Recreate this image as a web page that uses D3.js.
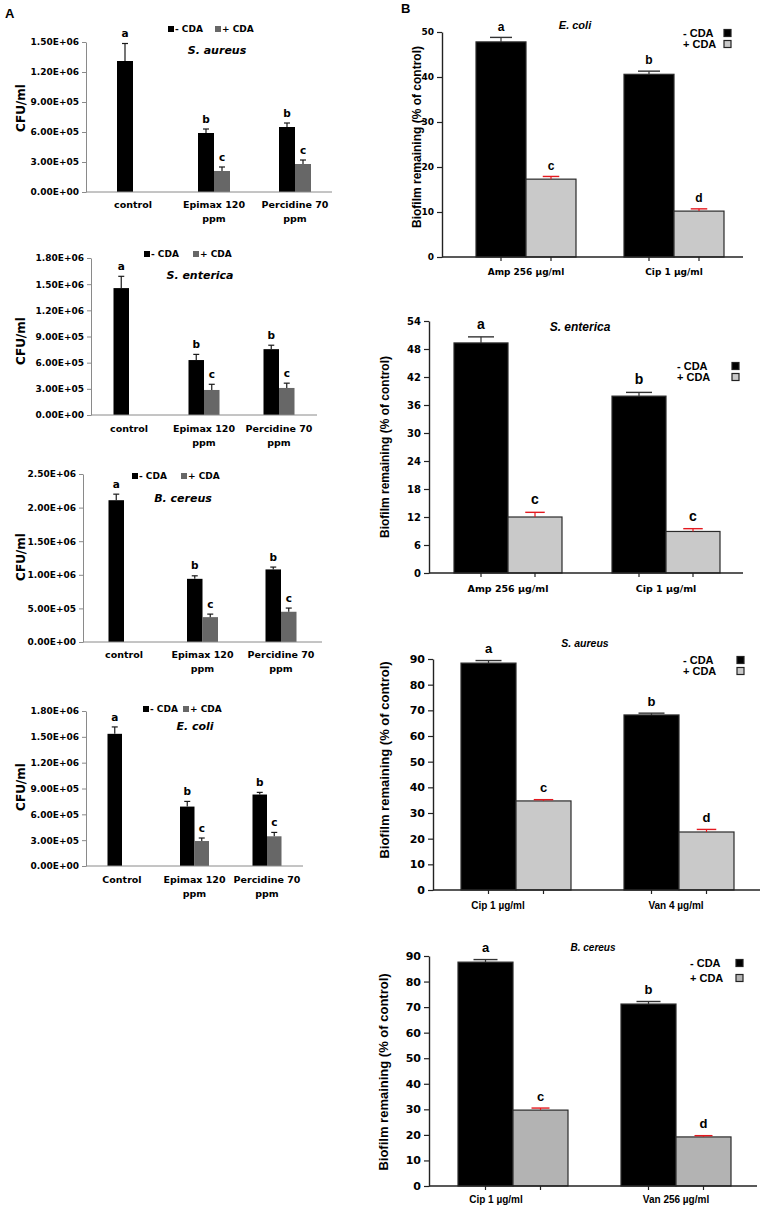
<!DOCTYPE html>
<html><head><meta charset="utf-8">
<script src="https://cdn.jsdelivr.net/npm/d3@7"></script>
<style>body{margin:0;background:#fff}svg{display:block}</style>
</head><body>
<script>
// ================= DATA =================
const seriesLabels = ["- CDA", "+ CDA"];

// ---- Panel A (CFU/ml) ----
const catsA = ["control", "Epimax 120\nppm", "Percidine 70\nppm"];
const catsA_ecoli = ["Control", "Epimax 120\nppm", "Percidine 70\nppm"];
const lettersA_minus = ["a", "b", "b"];
const lettersA_plus = [null, "c", "c"];

const ticksA_aureus = [0, 300000, 600000, 900000, 1200000, 1500000];
const ticksA_enterica = [0, 300000, 600000, 900000, 1200000, 1500000, 1800000];
const ticksA_cereus = [0, 500000, 1000000, 1500000, 2000000, 2500000];
const ticksA_ecoli = [0, 300000, 600000, 900000, 1200000, 1500000, 1800000];

const aureusA_minus = [1310000, 590000, 650000];
const aureusA_minusErr = [175000, 40000, 40000];
const aureusA_plus = [null, 210000, 280000];
const aureusA_plusErr = [null, 40000, 40000];

const entericaA_minus = [1455000, 630000, 755000];
const entericaA_minusErr = [135000, 65000, 45000];
const entericaA_plus = [null, 287000, 310000];
const entericaA_plusErr = [null, 65000, 55000];

const cereusA_minus = [2110000, 940000, 1080000];
const cereusA_minusErr = [90000, 45000, 35000];
const cereusA_plus = [null, 370000, 450000];
const cereusA_plusErr = [null, 45000, 55000];

const ecoliA_minus = [1535000, 690000, 830000];
const ecoliA_minusErr = [80000, 60000, 25000];
const ecoliA_plus = [null, 290000, 345000];
const ecoliA_plusErr = [null, 35000, 45000];

// ---- Panel B (Biofilm remaining, % of control) ----
const catsB_gram_neg = ["Amp 256 µg/ml", "Cip 1 µg/ml"];
const catsB_aureus = ["Cip 1 µg/ml", "Van 4 µg/ml"];
const catsB_cereus = ["Cip 1 µg/ml", "Van 256 µg/ml"];

const ticksB_ecoli = [0, 10, 20, 30, 40, 50];
const ticksB_enterica = [0, 6, 12, 18, 24, 30, 36, 42, 48, 54];
const ticksB_aureus = [0, 10, 20, 30, 40, 50, 60, 70, 80, 90];
const ticksB_cereus = [0, 10, 20, 30, 40, 50, 60, 70, 80, 90];

const ecoliB_minus = [47.8, 40.6];
const ecoliB_minusErr = [1.0, 0.7];
const ecoliB_plus = [17.3, 10.2];
const ecoliB_plusErr = [0.6, 0.5];
const ecoliB_lettersMinus = ["a", "b"];
const ecoliB_lettersPlus = ["c", "d"];

const entericaB_minus = [49.3, 37.9];
const entericaB_minusErr = [1.3, 0.8];
const entericaB_plus = [12.0, 8.9];
const entericaB_plusErr = [1.0, 0.6];
const entericaB_lettersMinus = ["a", "b"];
const entericaB_lettersPlus = ["c", "c"];

const aureusB_minus = [88.4, 68.2];
const aureusB_minusErr = [1.0, 0.7];
const aureusB_plus = [34.7, 22.6];
const aureusB_plusErr = [0.5, 1.0];
const aureusB_lettersMinus = ["a", "b"];
const aureusB_lettersPlus = ["c", "d"];

const cereusB_minus = [87.6, 71.2];
const cereusB_minusErr = [1.0, 1.0];
const cereusB_plus = [29.7, 19.2];
const cereusB_plusErr = [0.8, 0.5];
const cereusB_lettersMinus = ["a", "b"];
const cereusB_lettersPlus = ["c", "d"];

// ================= DRAWING =================
const W = 765, H = 1207;
const svg = d3.select("body").append("svg").attr("width", W).attr("height", H);

const sci = v => v.toExponential(2).toUpperCase().replace(/E([+-])(\d)$/, "E$10$2");
const DJ = "'DejaVu Sans', sans-serif";
const LB = "'Liberation Sans', Arial, sans-serif";

function txt(g, x, y, s, o) {
  const t = g.append("text").attr("x", x).attr("y", y).text(s)
    .attr("font-family", o.family || DJ).attr("font-weight", o.weight || "bold")
    .attr("font-size", o.size).attr("fill", o.fill || "#000")
    .attr("text-anchor", o.anchor || "middle").attr("dy", "0.35em");
  if (o.italic) t.attr("font-style", "italic");
  return t;
}

function buildBars(cats, minus, minusErr, plus, plusErr, lm, lp) {
  const out = [];
  cats.forEach((c, i) => {
    if (minus[i] != null) out.push({ c, s: 0, v: minus[i], e: minusErr[i], l: lm[i] });
    if (plus[i] != null) out.push({ c, s: 1, v: plus[i], e: plusErr[i], l: lp[i] });
  });
  return out;
}

// ---------- Panel A chart ----------
function drawA(cfg, cats, ticks, minus, minusErr, plus, plusErr) {
  const g = svg.append("g");
  const y = d3.scaleLinear().domain([0, d3.max(ticks)]).range([cfg.y0, cfg.yTop]);
  const x = d3.scaleBand().domain(cats)
    .range([cfg.c0 - cfg.step / 2, cfg.c0 + cfg.step * (cats.length - 0.5)]);
  const cx = c => x(c) + x.bandwidth() / 2;
  const bars = buildBars(cats, minus, minusErr, plus, plusErr, lettersA_minus, lettersA_plus);
  const bx = d => d.s === 0 ? cx(d.c) - cfg.barW : cx(d.c);
  const colors = ["#000000", "#676767"];

  g.selectAll("rect.bar").data(bars).join("rect").attr("class", "bar")
    .attr("x", bx).attr("y", d => y(d.v)).attr("width", cfg.barW)
    .attr("height", d => y(0) - y(d.v)).attr("fill", d => colors[d.s]);

  const eb = g.selectAll("g.err").data(bars).join("g").attr("class", "err");
  eb.append("line").attr("x1", d => bx(d) + cfg.barW / 2).attr("x2", d => bx(d) + cfg.barW / 2)
    .attr("y1", d => y(d.v)).attr("y2", d => y(d.v + d.e)).attr("stroke", "#1a1a1a").attr("stroke-width", 1.2);
  eb.append("line").attr("x1", d => bx(d) + cfg.barW / 2 - 3).attr("x2", d => bx(d) + cfg.barW / 2 + 3)
    .attr("y1", d => y(d.v + d.e)).attr("y2", d => y(d.v + d.e)).attr("stroke", "#1a1a1a").attr("stroke-width", 1.2);
  bars.forEach(d => txt(g, bx(d) + cfg.barW / 2, y(d.v + d.e) - 10, d.l, { size: 10.5 }));

  const ax = g.append("g").attr("transform", `translate(${cfg.axisX},0)`)
    .call(d3.axisLeft(y).tickValues(ticks).tickFormat(sci).tickSizeInner(4).tickSizeOuter(0).tickPadding(3));
  ax.select(".domain").attr("stroke", "#8a8a8a");
  ax.selectAll(".tick line").attr("stroke", "#8a8a8a");
  ax.selectAll(".tick text").attr("font-family", DJ).attr("font-weight", "bold")
    .attr("font-size", 9).attr("fill", "#000");
  g.append("line").attr("x1", cfg.axisX).attr("x2", cfg.xEnd).attr("y1", y(0)).attr("y2", y(0))
    .attr("stroke", "#8a8a8a").attr("stroke-width", 1);

  cats.forEach(c => {
    c.split("\n").forEach((line, k) => txt(g, cx(c), cfg.labelY + k * 14, line, { size: 9.5 }));
  });
  txt(g, 0, 0, "CFU/ml", { size: 12 }).attr("transform", `translate(21,${cfg.yTitleY}) rotate(-90)`);
  seriesLabels.forEach((s, i) => {
    g.append("rect").attr("x", cfg.legX[i]).attr("y", cfg.legendY - 3).attr("width", 6).attr("height", 6)
      .attr("fill", colors[i]);
    txt(g, cfg.legX[i] + 7, cfg.legendY, s, { size: 9, anchor: "start" });
  });
  txt(g, cfg.titleX, cfg.titleY, cfg.title, { size: 11, italic: true });
}

// ---------- Panel B chart ----------
function drawB(cfg, cats, ticks, minus, minusErr, plus, plusErr, lm, lp) {
  const g = svg.append("g");
  const y = d3.scaleLinear().domain([0, d3.max(ticks)]).range([cfg.y0, cfg.yTop]);
  const x = d3.scaleBand().domain(cats)
    .range([cfg.c0 - cfg.step / 2, cfg.c0 + cfg.step * (cats.length - 0.5)]);
  const cx = c => x(c) + x.bandwidth() / 2;
  const bars = buildBars(cats, minus, minusErr, plus, plusErr, lm, lp);
  const bx = d => d.s === 0 ? cx(d.c) - cfg.barW : cx(d.c);
  const colors = ["#000000", cfg.grey];

  g.selectAll("rect.bar").data(bars).join("rect").attr("class", "bar")
    .attr("x", bx).attr("y", d => y(d.v)).attr("width", cfg.barW)
    .attr("height", d => y(0) - y(d.v)).attr("fill", d => colors[d.s])
    .attr("stroke", "#2b2b2b").attr("stroke-width", 1.2);

  const errCol = ["#333333", "#e3191f"];
  const capW = [cfg.capW, cfg.capW * 0.75];
  const eb = g.selectAll("g.err").data(bars).join("g").attr("class", "err");
  eb.append("line").attr("x1", d => bx(d) + cfg.barW / 2).attr("x2", d => bx(d) + cfg.barW / 2)
    .attr("y1", d => y(d.v)).attr("y2", d => y(d.v + d.e)).attr("stroke", d => errCol[d.s]).attr("stroke-width", 1.2);
  eb.append("line").attr("x1", d => bx(d) + cfg.barW / 2 - capW[d.s] / 2).attr("x2", d => bx(d) + cfg.barW / 2 + capW[d.s] / 2)
    .attr("y1", d => y(d.v + d.e)).attr("y2", d => y(d.v + d.e)).attr("stroke", d => errCol[d.s]).attr("stroke-width", 1.4);
  bars.forEach(d => txt(g, bx(d) + cfg.barW / 2, y(d.v + d.e) - cfg.letterGap, d.l, { family: LB, size: cfg.letterSize }));

  const ax = g.append("g").attr("transform", `translate(${cfg.axisX},0)`)
    .call(d3.axisLeft(y).tickValues(ticks).tickSizeInner(5).tickSizeOuter(0).tickPadding(3));
  ax.select(".domain").attr("stroke", "#222").attr("stroke-width", 1.4);
  ax.selectAll(".tick line").attr("stroke", "#222").attr("stroke-width", 1.2);
  ax.selectAll(".tick text").attr("font-family", cfg.tickFamily).attr("font-weight", "bold")
    .attr("font-size", cfg.tickSize).attr("fill", "#000");
  g.append("line").attr("x1", cfg.axisX).attr("x2", cfg.xEnd).attr("y1", y(0)).attr("y2", y(0))
    .attr("stroke", "#222").attr("stroke-width", 1.4);
  g.selectAll("line.xt").data(bars).join("line").attr("class", "xt")
    .attr("x1", d => bx(d) + cfg.barW / 2).attr("x2", d => bx(d) + cfg.barW / 2)
    .attr("y1", y(0)).attr("y2", y(0) + 4).attr("stroke", "#222").attr("stroke-width", 1.2);

  cats.forEach((c, i) => txt(g, cx(c) + (cfg.labelDx ? cfg.labelDx[i] : 0), cfg.labelY, c,
    { family: cfg.catFamily, size: cfg.catSize }));
  txt(g, 0, 0, "Biofilm  remaining (% of control)", { family: LB, size: cfg.yTitleSize })
    .attr("transform", `translate(${cfg.yTitleX},${cfg.yTitleY}) rotate(-90)`);

  seriesLabels.forEach((s, i) => {
    txt(g, cfg.legTextX, cfg.legY[i], s, { family: LB, size: 11, anchor: "start" });
    g.append("rect").attr("x", cfg.legSqX).attr("y", cfg.legY[i] - 3.5).attr("width", 7).attr("height", 7)
      .attr("fill", colors[i]).attr("stroke", "#222").attr("stroke-width", 1.2);
  });
  txt(g, cfg.titleX, cfg.titleY, cfg.title, { family: LB, size: cfg.titleSize, italic: true });
}

txt(svg, 5, 13, "A", { family: LB, size: 13, anchor: "start" });
txt(svg, 401, 8, "B", { family: LB, size: 13, anchor: "start" });

drawA({ axisX: 86, y0: 192, yTop: 42, xEnd: 332, c0: 133, step: 81, barW: 16, legendY: 29, legX: [168, 215],
        title: "S. aureus", titleX: 217, titleY: 50, labelY: 205, yTitleY: 108 },
  catsA, ticksA_aureus, aureusA_minus, aureusA_minusErr, aureusA_plus, aureusA_plusErr);
drawA({ axisX: 91, y0: 415, yTop: 258, xEnd: 317, c0: 129, step: 75, barW: 15.5, legendY: 254, legX: [144, 193],
        title: "S. enterica", titleX: 200, titleY: 275, labelY: 429, yTitleY: 341 },
  catsA, ticksA_enterica, entericaA_minus, entericaA_minusErr, entericaA_plus, entericaA_plusErr);
drawA({ axisX: 83, y0: 642, yTop: 474, xEnd: 322, c0: 124, step: 78.5, barW: 15.5, legendY: 476, legX: [132, 181],
        title: "B. cereus", titleX: 183, titleY: 498, labelY: 655, yTitleY: 557 },
  catsA, ticksA_cereus, cereusA_minus, cereusA_minusErr, cereusA_plus, cereusA_plusErr);
drawA({ axisX: 86, y0: 866, yTop: 711, xEnd: 303, c0: 122, step: 72.5, barW: 14.5, legendY: 709, legX: [143, 183],
        title: "E. coli", titleX: 195, titleY: 726, labelY: 880, yTitleY: 787 },
  catsA_ecoli, ticksA_ecoli, ecoliA_minus, ecoliA_minusErr, ecoliA_plus, ecoliA_plusErr);

drawB({ axisX: 442, y0: 257, yTop: 32, xEnd: 743, c0: 526, step: 148, barW: 50, grey: "#c9c9c9", capW: 22,
        letterSize: 12, letterGap: 11, tickFamily: DJ, tickSize: 9, catFamily: DJ, catSize: 9,
        yTitleX: 417, yTitleY: 137, yTitleSize: 12, legTextX: 683, legSqX: 724, legY: [33, 44],
        title: "E. coli", titleX: 575, titleY: 25, titleSize: 11, labelY: 272 },
  catsB_gram_neg, ticksB_ecoli, ecoliB_minus, ecoliB_minusErr, ecoliB_plus, ecoliB_plusErr,
  ecoliB_lettersMinus, ecoliB_lettersPlus);
drawB({ axisX: 429, y0: 573, yTop: 321, xEnd: 743, c0: 508, step: 158, barW: 54, grey: "#c9c9c9", capW: 26,
        letterSize: 14, letterGap: 13, tickFamily: DJ, tickSize: 10, catFamily: DJ, catSize: 9.5,
        yTitleX: 385, yTitleY: 447, yTitleSize: 12, legTextX: 677, legSqX: 732, legY: [366, 377],
        title: "S. enterica", titleX: 580, titleY: 327, titleSize: 12, labelY: 589 },
  catsB_gram_neg, ticksB_enterica, entericaB_minus, entericaB_minusErr, entericaB_plus, entericaB_plusErr,
  entericaB_lettersMinus, entericaB_lettersPlus);
drawB({ axisX: 433, y0: 890, yTop: 659, xEnd: 760, c0: 516, step: 163, barW: 55, grey: "#c9c9c9", capW: 26,
        letterSize: 13, letterGap: 12, tickFamily: DJ, tickSize: 11, catFamily: LB, catSize: 10,
        yTitleX: 384, yTitleY: 760, yTitleSize: 13, legTextX: 683, legSqX: 737, legY: [660, 671],
        title: "S. aureus", titleX: 585, titleY: 643, titleSize: 10.5, labelY: 905, labelDx: [-18, -3] },
  catsB_aureus, ticksB_aureus, aureusB_minus, aureusB_minusErr, aureusB_plus, aureusB_plusErr,
  aureusB_lettersMinus, aureusB_lettersPlus);
drawB({ axisX: 429, y0: 1186, yTop: 956, xEnd: 757, c0: 513, step: 163, barW: 55, grey: "#b3b3b3", capW: 24,
        letterSize: 13, letterGap: 12, tickFamily: DJ, tickSize: 11, catFamily: LB, catSize: 10,
        yTitleX: 383, yTitleY: 1072, yTitleSize: 13, legTextX: 690, legSqX: 736, legY: [963, 978],
        title: "B. cereus", titleX: 593, titleY: 947, titleSize: 10, labelY: 1199, labelDx: [-17, 0] },
  catsB_cereus, ticksB_cereus, cereusB_minus, cereusB_minusErr, cereusB_plus, cereusB_plusErr,
  cereusB_lettersMinus, cereusB_lettersPlus);
</script>
</body></html>
